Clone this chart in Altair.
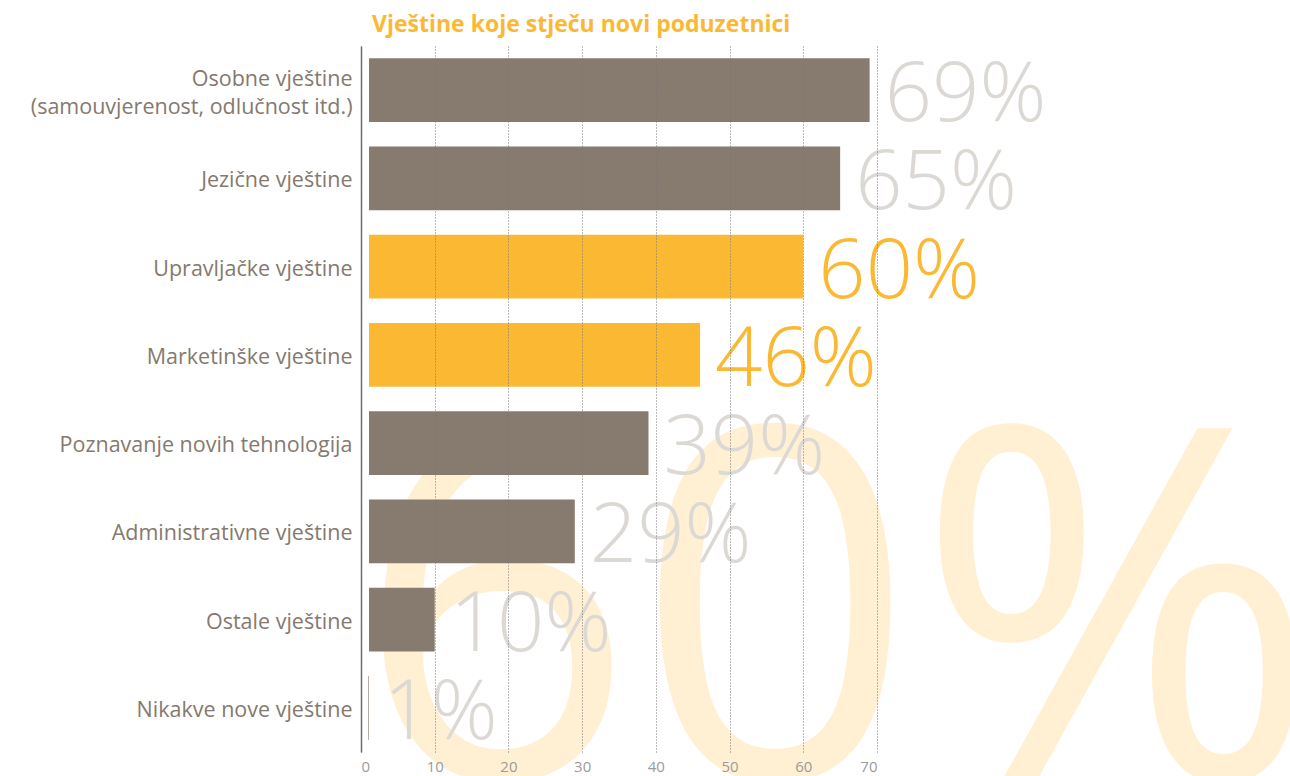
import altair as alt
import pandas as pd

skills = [
    "Osobne vještine|(samouvjerenost, odlučnost itd.)",
    "Jezične vještine",
    "Upravljačke vještine",
    "Marketinške vještine",
    "Poznavanje novih tehnologija",
    "Administrativne vještine",
    "Ostale vještine",
    "Nikakve nove vještine",
]
values = [69, 65, 60, 46, 39, 29, 10, 1]
highlighted = [False, False, True, True, False, False, False, False]
title_text = "Vještine koje stječu novi poduzetnici"
watermark_text = "60%"

df = pd.DataFrame({
    "skill": skills,
    "value": values,
    "hl": ["y" if h else "n" for h in highlighted],
    "label": [f"{v}%" for v in values],
})

FONT = "Open Sans"
BAR_GREY = "#877a6f"
ORANGE = "#fbb833"
LABEL_GREY = "#dcd8d4"

y_enc = alt.Y(
    "skill:N",
    sort=skills,
    scale=alt.Scale(paddingInner=0.275, paddingOuter=0.1375),
    axis=alt.Axis(
        title=None,
        labelExpr="split(datum.label, '|')",
        labelFont=FONT,
        labelFontSize=21.5,
        labelColor="#85796e",
        labelPadding=9,
        labelLineHeight=28,
        labelLimit=0,
        labelOffset={"condition": {"test": "indexof(datum.value, '|') >= 0", "value": -10}, "value": 3},
        ticks=False,
        grid=False,
        domain=True,
        domainColor="#6f6a66",
        domainWidth=1.5,
    ),
)
x_enc = alt.X(
    "value:Q",
    scale=alt.Scale(domain=[0, 70], nice=False),
    axis=alt.Axis(
        title=None,
        values=[0, 10, 20, 30, 40, 50, 60, 70],
        labelFont=FONT,
        labelFontSize=15,
        labelColor="#9b9b9b",
        labelPadding=7,
        ticks=False,
        domain=False,
        grid=True,
        gridColor="#777777",
        gridDash=[1, 2],
        gridWidth=1,
        zindex=1,
    ),
)

base = alt.Chart(df)

watermark = base.transform_filter("datum.skill == 'Upravljačke vještine'").mark_text(
    align="left", baseline="alphabetic", font=FONT, fontSize=490, color="#fff0d4"
).encode(x=alt.value(-6), y=alt.value(732), text=alt.value(watermark_text))

bars = base.mark_bar(x2Offset=8).encode(
    y=y_enc,
    x=x_enc,
    x2=alt.datum(0),
    color=alt.Color("hl:N", scale=alt.Scale(domain=["n", "y"], range=[BAR_GREY, ORANGE]), legend=None),
)

texts = base.mark_text(
    align="left", baseline="alphabetic", dx=15, dy=31, font=FONT, fontSize=83, fontWeight=300
).encode(
    y=alt.Y("skill:N", sort=skills),
    x=alt.X("value:Q"),
    text="label:N",
    color=alt.Color("hl:N", scale=alt.Scale(domain=["n", "y"], range=[LABEL_GREY, ORANGE]), legend=None),
)

chart = alt.layer(watermark, bars, texts).resolve_scale(color="independent").properties(
    width=516,
    height=706,
    padding={"left": 361, "top": 46, "right": 413, "bottom": 24},
    autosize=alt.AutoSizeParams(type="none"),
    title=alt.Title(
        title_text,
        anchor="start",
        frame="group",
        color=ORANGE,
        font=FONT,
        fontSize=23,
        fontWeight="bold",
        dx=11,
        offset=9,
    ),
).configure_view(stroke=None)

chart.save("out.html", embed_options={"renderer": "svg", "actions": False})
